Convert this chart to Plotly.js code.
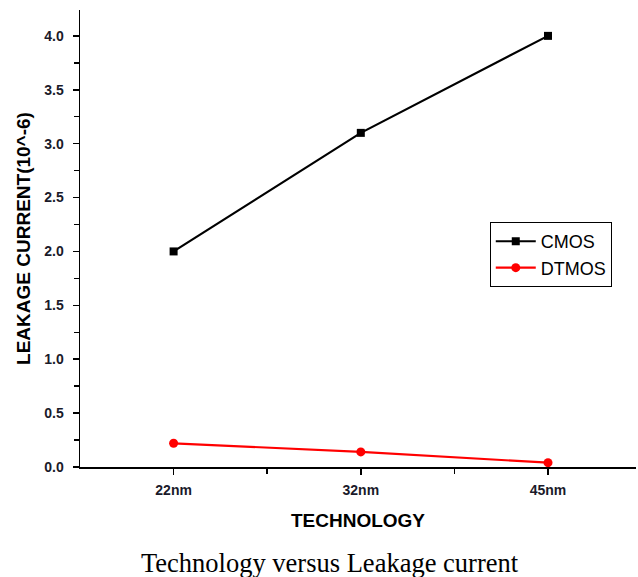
<!DOCTYPE html>
<html>
<head>
<meta charset="utf-8">
<script src="https://cdn.plot.ly/plotly-3.0.1.min.js"></script>
<style>
html,body{margin:0;padding:0;background:#fff;}
#chart{width:638px;height:577px;}
</style>
</head>
<body>
<div id="chart"></div>
<script>
const categories = ["22nm", "32nm", "45nm"];
const cmos = [2.0, 3.1, 4.0];
const dtmos = [0.22, 0.14, 0.04];
const seriesNames = ["CMOS", "DTMOS"];
const yTickVals = [0.0, 0.5, 1.0, 1.5, 2.0, 2.5, 3.0, 3.5, 4.0];
const yTickText = ["0.0", "0.5", "1.0", "1.5", "2.0", "2.5", "3.0", "3.5", "4.0"];

const xIdx = categories.map((_, i) => i);

const traces = [
  {
    x: xIdx, y: cmos, name: seriesNames[0], mode: "lines+markers",
    line: {color: "#000", width: 2.2},
    marker: {symbol: "square", size: 8, color: "#000"}
  },
  {
    x: xIdx, y: dtmos, name: seriesNames[1], mode: "lines+markers",
    line: {color: "#ff0000", width: 2.2},
    marker: {symbol: "circle", size: 9, color: "#ff0000"}
  }
];

const tickFont = {family: "Arial, 'Liberation Sans', sans-serif", size: 14, color: "#1a1a2a", weight: "bold"};

const layout = {
  width: 638, height: 577,
  margin: {l: 80, r: 2, t: 10, b: 110},
  paper_bgcolor: "#fff", plot_bgcolor: "#fff",
  showlegend: true,
  legend: {
    x: 0.737, y: 0.536, xanchor: "left", yanchor: "top",
    bordercolor: "#000", borderwidth: 1, bgcolor: "#fff",
    font: {family: "Arial, 'Liberation Sans', sans-serif", size: 18, color: "#000"},
    tracegroupgap: 0, itemwidth: 40
  },
  xaxis: {
    range: [-0.5, 2.47],
    tickmode: "array", tickvals: xIdx, ticktext: categories,
    ticks: "outside", ticklen: 6, tickwidth: 1.5, tickcolor: "#000",
    ticklabelstandoff: 4,
    showline: true, linecolor: "#000", linewidth: 1.5,
    showgrid: false, zeroline: false,
    tickfont: tickFont,
    minor: {tickvals: [0.5, 1.5], ticks: "outside", ticklen: 5, tickwidth: 1.5, tickcolor: "#000", showgrid: false},
    title: {text: "TECHNOLOGY", standoff: 16,
      font: {family: "Arial, 'Liberation Sans', sans-serif", size: 19, color: "#000", weight: "bold"}}
  },
  yaxis: {
    range: [0, 4.24],
    tickmode: "array", tickvals: yTickVals, ticktext: yTickText,
    ticks: "outside", ticklen: 6, tickwidth: 1.5, tickcolor: "#000",
    ticklabelstandoff: 6,
    showline: true, linecolor: "#000", linewidth: 1.5,
    showgrid: false, zeroline: false,
    tickfont: tickFont,
    minor: {dtick: 0.25, tick0: 0, ticks: "outside", ticklen: 5, tickwidth: 1.5, tickcolor: "#000", showgrid: false},
    title: {text: "LEAKAGE CURRENT(10^-6)", standoff: 8,
      font: {family: "Arial, 'Liberation Sans', sans-serif", size: 19, color: "#000", weight: "bold"}}
  },
  annotations: [{
    text: "Technology versus Leakage current",
    xref: "paper", yref: "paper", x: (330 - 80) / 556, y: -(563 - 467) / 457,
    xanchor: "center", yanchor: "middle", showarrow: false,
    font: {family: "'Liberation Serif', 'Times New Roman', serif", size: 26.5, color: "#000"}
  }]
};

Plotly.newPlot("chart", traces, layout, {displayModeBar: false, staticPlot: true});
</script>
</body>
</html>
